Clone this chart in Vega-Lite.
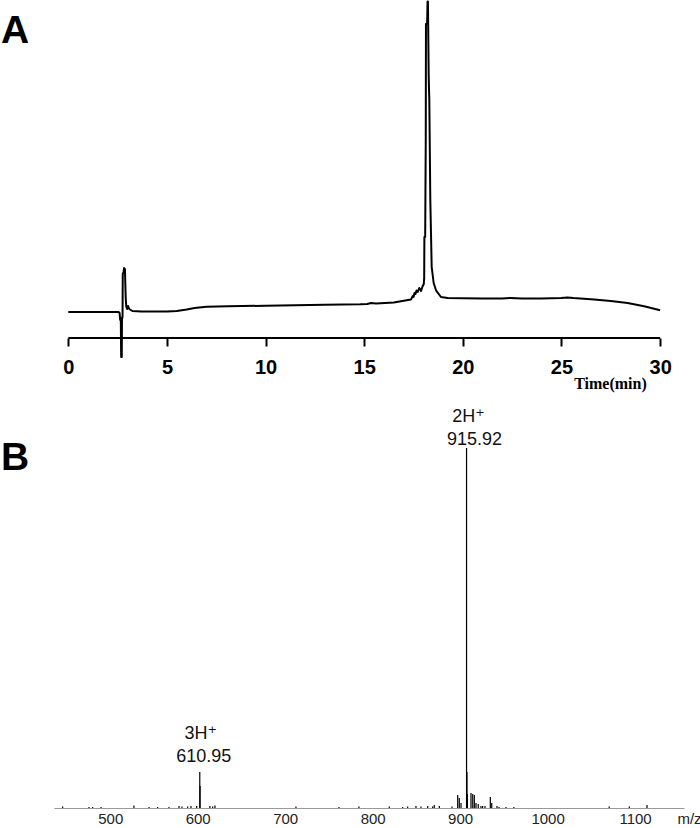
{
  "$schema": "https://vega.github.io/schema/vega-lite/v6.json",
  "background": "white",
  "padding": 0,
  "bounds": "flush",
  "spacing": 70,
  "config": {"view": {"stroke": null}, "axis": {"grid": false}},
  "datasets": {
    "chrom": [
      {"t": 0, "v": 26}, {"t": 1, "v": 26}, {"t": 2, "v": 26}, {"t": 2.55, "v": 26},
      {"t": 2.6, "v": 25}, {"t": 2.63, "v": 18}, {"t": 2.66, "v": 20}, {"t": 2.68, "v": -19},
      {"t": 2.71, "v": -19}, {"t": 2.72, "v": 18}, {"t": 2.75, "v": 22}, {"t": 2.76, "v": 64},
      {"t": 2.8, "v": 66}, {"t": 2.83, "v": 70}, {"t": 2.87, "v": 69}, {"t": 2.91, "v": 40},
      {"t": 2.94, "v": 31}, {"t": 2.98, "v": 29}, {"t": 3.03, "v": 32}, {"t": 3.09, "v": 29},
      {"t": 3.25, "v": 27}, {"t": 3.7, "v": 26.4}, {"t": 5.0, "v": 26.4}, {"t": 5.5, "v": 27},
      {"t": 6.0, "v": 28.5}, {"t": 6.4, "v": 30}, {"t": 7.0, "v": 31.2}, {"t": 8.1, "v": 31.7},
      {"t": 10, "v": 32.3}, {"t": 11.5, "v": 32.7}, {"t": 13, "v": 33.2}, {"t": 14.8, "v": 33.7},
      {"t": 15.15, "v": 34}, {"t": 15.35, "v": 35}, {"t": 15.6, "v": 34.4}, {"t": 16.5, "v": 35.5},
      {"t": 16.86, "v": 36.7}, {"t": 17.37, "v": 38.4}, {"t": 17.46, "v": 42}, {"t": 17.5, "v": 41},
      {"t": 17.55, "v": 45}, {"t": 17.6, "v": 44}, {"t": 17.65, "v": 47.5}, {"t": 17.71, "v": 46},
      {"t": 17.79, "v": 50}, {"t": 17.88, "v": 47}, {"t": 17.96, "v": 51.7}, {"t": 18.02, "v": 54},
      {"t": 18.04, "v": 60}, {"t": 18.05, "v": 101}, {"t": 18.09, "v": 101}, {"t": 18.12, "v": 200},
      {"t": 18.13, "v": 314}, {"t": 18.19, "v": 315}, {"t": 18.21, "v": 336.5}, {"t": 18.23, "v": 336.5},
      {"t": 18.27, "v": 260}, {"t": 18.3, "v": 238}, {"t": 18.35, "v": 138}, {"t": 18.42, "v": 71},
      {"t": 18.52, "v": 55}, {"t": 18.64, "v": 47.7}, {"t": 18.89, "v": 41}, {"t": 19.23, "v": 40},
      {"t": 20, "v": 39.8}, {"t": 21, "v": 39.5}, {"t": 22, "v": 39.6}, {"t": 22.4, "v": 40},
      {"t": 23, "v": 39.4}, {"t": 24, "v": 39.6}, {"t": 25, "v": 40}, {"t": 25.3, "v": 40.6},
      {"t": 25.6, "v": 40}, {"t": 26.66, "v": 38.4}, {"t": 27.5, "v": 37}, {"t": 28.35, "v": 35},
      {"t": 29.19, "v": 31.7}, {"t": 30, "v": 27.7}
    ],
    "spec": [
      {"mz": 454.2, "h": 1.5}, {"mz": 484.3, "h": 1}, {"mz": 488.5, "h": 1}, {"mz": 498, "h": 1},
      {"mz": 535.7, "h": 2.5}, {"mz": 552.9, "h": 1}, {"mz": 562.8, "h": 1}, {"mz": 575.7, "h": 1},
      {"mz": 587.2, "h": 2}, {"mz": 590.6, "h": 1.5}, {"mz": 597.1, "h": 1.5}, {"mz": 600.9, "h": 2},
      {"mz": 607.4, "h": 2}, {"mz": 610.95, "h": 36, "ion": "3H⁺", "lab": "610.95"}, {"mz": 611.28, "h": 22},
      {"mz": 622.5, "h": 2}, {"mz": 625.7, "h": 1.5}, {"mz": 628.3, "h": 2.5}, {"mz": 720.9, "h": 1.5},
      {"mz": 770.1, "h": 1}, {"mz": 792.9, "h": 1.5}, {"mz": 827.6, "h": 1.5}, {"mz": 842.9, "h": 1},
      {"mz": 848.6, "h": 1.5}, {"mz": 858.1, "h": 2}, {"mz": 863.8, "h": 1.5}, {"mz": 871.5, "h": 2},
      {"mz": 877.2, "h": 1.5}, {"mz": 879, "h": 3}, {"mz": 884.8, "h": 2}, {"mz": 899.3, "h": 1.5},
      {"mz": 905.8, "h": 13}, {"mz": 907.6, "h": 10}, {"mz": 909.6, "h": 5},
      {"mz": 915.92, "h": 360, "ion": "2H⁺", "lab": "915.92"}, {"mz": 916.42, "h": 36}, {"mz": 916.92, "h": 14},
      {"mz": 921, "h": 15}, {"mz": 923, "h": 14}, {"mz": 924.8, "h": 13}, {"mz": 926.7, "h": 5},
      {"mz": 929.3, "h": 4}, {"mz": 932.4, "h": 2}, {"mz": 934.3, "h": 2}, {"mz": 937, "h": 2},
      {"mz": 943.1, "h": 11}, {"mz": 944.7, "h": 5}, {"mz": 950.7, "h": 2}, {"mz": 953, "h": 1},
      {"mz": 961, "h": 1}, {"mz": 970, "h": 1}, {"mz": 1079, "h": 1.5}, {"mz": 1102, "h": 1.5},
      {"mz": 1122.2, "h": 3}
    ]
  },
  "vconcat": [
    {
      "width": 630,
      "height": 338,
      "data": {"name": "chrom"},
      "layer": [
        {
          "mark": {"type": "line", "color": "black", "strokeWidth": 2, "strokeJoin": "round", "clip": false},
          "encoding": {
            "x": {"field": "t", "type": "quantitative",
                  "scale": {"domain": [-0.725, 31.21], "nice": false, "zero": false},
                  "axis": {"values": [0, 5, 10, 15, 20, 25, 30], "domain": false, "ticks": true, "tickSize": 8, "tickWidth": 2, "tickColor": "black",
                           "labelFont": "Liberation Sans", "labelFontSize": 20, "labelFontWeight": "bold", "labelColor": "black", "labelPadding": 11,
                           "labelFlush": false, "labelOverlap": false,
                           "title": "Time(min)", "titleFont": "Liberation Serif", "titleFontSize": 16, "titleFontWeight": "bold", "titleColor": "black",
                           "titleX": 556, "titleY": 50, "titleBaseline": "alphabetic", "titleAlign": "center"}},
            "y": {"field": "v", "type": "quantitative", "scale": {"domain": [0, 338], "nice": false, "zero": false}, "axis": null}
          }
        },
        {
          "data": {"values": [{}]},
          "mark": {"type": "rule", "color": "black", "strokeWidth": 2},
          "encoding": {"x": {"datum": 0, "type": "quantitative"}, "x2": {"datum": 30}, "y": {"datum": 0, "type": "quantitative"}}
        },
        {
          "data": {"values": [{"panel": "A"}]},
          "mark": {"type": "text", "font": "Liberation Sans", "fontSize": 39, "fontWeight": "bold", "color": "black", "align": "left", "baseline": "alphabetic"},
          "encoding": {"x": {"datum": -3.41, "type": "quantitative"}, "y": {"datum": 295.5, "type": "quantitative"}, "text": {"field": "panel"}}
        }
      ]
    },
    {
      "width": 630,
      "height": 400,
      "data": {"name": "spec"},
      "layer": [
        {
          "mark": {"type": "rule", "color": "black", "strokeWidth": 1.2},
          "encoding": {
            "x": {"field": "mz", "type": "quantitative",
                  "scale": {"domain": [444.3, 1164.5], "nice": false, "zero": false},
                  "axis": {"values": [500, 600, 700, 800, 900, 1000, 1100], "format": "d", "domain": true, "domainColor": "#999999", "domainWidth": 1, "ticks": false, "tickSize": 0,
                           "labelFont": "Liberation Sans", "labelFontSize": 15, "labelColor": "#222222", "labelPadding": 3, "labelOffset": 7.5,
                           "labelFlush": false, "labelOverlap": false,
                           "title": "m/z", "titleFont": "Liberation Sans", "titleFontSize": 15, "titleFontWeight": "normal", "titleColor": "#222222",
                           "titleX": 635, "titleY": 15, "titleBaseline": "alphabetic", "titleAlign": "center"}},
            "y": {"field": "h", "type": "quantitative", "scale": {"domain": [0, 400], "nice": false, "zero": false}, "axis": null},
            "y2": {"datum": 0}
          }
        },
        {
          "transform": [{"filter": "datum.mz == 915.92"}],
          "mark": {"type": "text", "font": "Liberation Sans, DejaVu Sans", "fontSize": 18, "color": "#111111", "baseline": "alphabetic", "dx": 2, "dy": -26},
          "encoding": {"x": {"field": "mz", "type": "quantitative"}, "y": {"field": "h", "type": "quantitative"}, "text": {"field": "ion"}}
        },
        {
          "transform": [{"filter": "datum.mz == 915.92"}],
          "mark": {"type": "text", "font": "Liberation Sans", "fontSize": 18, "color": "#111111", "baseline": "alphabetic", "dx": 8, "dy": -3},
          "encoding": {"x": {"field": "mz", "type": "quantitative"}, "y": {"field": "h", "type": "quantitative"}, "text": {"field": "lab"}}
        },
        {
          "transform": [{"filter": "datum.mz == 610.95"}],
          "mark": {"type": "text", "font": "Liberation Sans, DejaVu Sans", "fontSize": 18, "color": "#111111", "baseline": "alphabetic", "dx": 1, "dy": -33},
          "encoding": {"x": {"field": "mz", "type": "quantitative"}, "y": {"field": "h", "type": "quantitative"}, "text": {"field": "ion"}}
        },
        {
          "transform": [{"filter": "datum.mz == 610.95"}],
          "mark": {"type": "text", "font": "Liberation Sans", "fontSize": 18, "color": "#111111", "baseline": "alphabetic", "dx": 4, "dy": -10},
          "encoding": {"x": {"field": "mz", "type": "quantitative"}, "y": {"field": "h", "type": "quantitative"}, "text": {"field": "lab"}}
        },
        {
          "data": {"values": [{"panel": "B"}]},
          "mark": {"type": "text", "font": "Liberation Sans", "fontSize": 39, "fontWeight": "bold", "color": "black", "align": "left", "baseline": "alphabetic"},
          "encoding": {"x": {"datum": 383.7, "type": "quantitative"}, "y": {"datum": 338.5, "type": "quantitative"}, "text": {"field": "panel"}}
        }
      ]
    }
  ]
}
